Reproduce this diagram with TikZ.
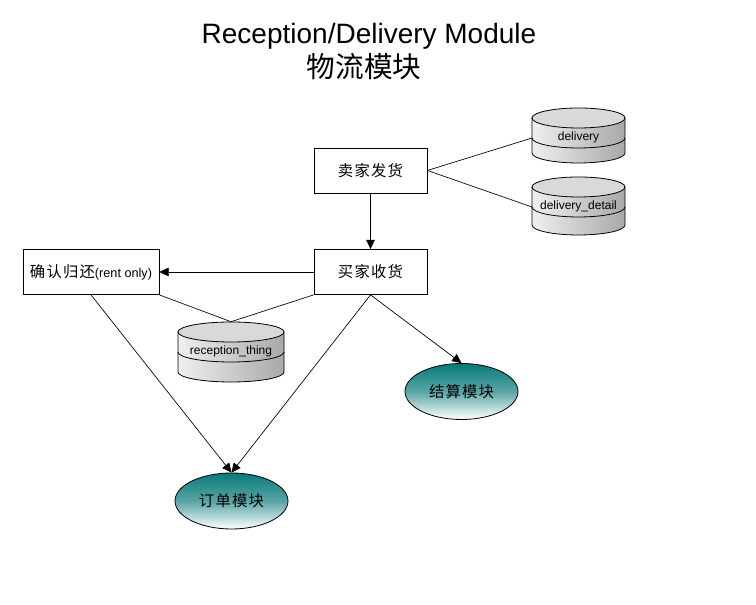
\documentclass[tikz,border=0pt]{standalone}
\usepackage{fontspec}
\setmainfont{Liberation Sans}
\newfontfamily\cjk{Noto Sans CJK SC}
\newfontfamily\cjksp[LetterSpace=8]{Noto Sans CJK SC}
\usetikzlibrary{shapes.geometric,arrows.meta}
\definecolor{tealtop}{RGB}{8,122,122}
\definecolor{tealmid}{RGB}{90,165,165}
\newcommand\dbcyl[6]{%
  \path[left color=gray!12,right color=gray!68,draw=black,line width=0.6pt]
    ({#2-#5/2},{605-#3-10}) -- ({#2-#5/2},{605-#4+10})
    arc[start angle=180,end angle=360,x radius={#5/2},y radius=10]
    -- ({#2+#5/2},{605-#3-10}) -- cycle;
  \path[fill=gray!30,draw=black,line width=0.6pt] (#2,{605-#3-10}) ellipse[x radius={#5/2},y radius=10];
  \draw[line width=0.6pt] ({#2-#5/2},{605-#3-30}) arc[start angle=180,end angle=360,x radius={#5/2},y radius=10];
  \node[inner sep=0pt,minimum width={#5*0.75pt},minimum height={(#4-#3)*0.75pt}] (#1) at (#2,{605-(#3+#4)/2}) {};
  \coordinate (#1-w) at ({#2-#5/2},{605-#3-30});
  \node[dblabel] (#1-label) at (#2,{605-#3-29}) {#6};
}
\begin{document}
\begin{tikzpicture}[x=0.75pt,y=0.75pt,
  box/.style={draw,rectangle,line width=0.6pt,minimum width=84.75pt,minimum height=33.75pt,inner sep=0pt,font=\cjksp\fontsize{11.5}{14}\selectfont},
  module/.style={draw,ellipse,line width=0.6pt,top color=tealtop,bottom color=white,middle color=tealmid,minimum width=84.75pt,minimum height=42pt,inner sep=0pt,font=\cjksp\fontsize{11.5}{14}\selectfont},
  dblabel/.style={inner sep=0pt,font=\fontsize{9}{11}\selectfont},
  conn/.style={line width=0.5pt},
  arr/.style={line width=0.5pt,-{Triangle[length=7pt,width=6.5pt]}}]
\useasboundingbox (0,0) rectangle (756,605);
\fill[white] (0,0) rectangle (756,605);
\node (title) at (369,569) {\fontsize{21}{25}\selectfont Reception/Delivery Module};
\node (title2) at (364,538) {\cjk\fontsize{21.5}{25}\selectfont 物流模块};

\node[box] (sell) at (370.5,434.5) {卖家发货};
\node[box] (buy) at (370.5,333) {买家收货};
\node[box,minimum width=102pt] (confirm) at (91,333) {确认归还{\rmfamily\fontsize{9.5}{11}\selectfont(rent only)}};

\node[module] (order) at (231.5,104) {订单模块};
\node[module] (settle) at (461.5,213.5) {结算模块};

\dbcyl{delivery}{578.5}{108}{163}{93}{delivery}
\dbcyl{ddetail}{578.5}{177}{235}{93}{delivery\_detail}
\dbcyl{rthing}{231}{322}{382}{106}{reception\_thing}

\draw[conn] (sell.east) -- (delivery-w);
\draw[conn] (sell.east) -- (ddetail-w);
\draw[arr] (sell.south) -- (buy.north);
\draw[arr] (buy.west) -- (confirm.east);
\draw[conn] (confirm.south east) -- (rthing.north);
\draw[conn] (buy.south west) -- (rthing.north);
\draw[arr] (confirm.south) -- (order.north);
\draw[arr] (buy.south) -- (order.north);
\draw[arr] (buy.south) -- (settle.north);
\end{tikzpicture}
\end{document}
